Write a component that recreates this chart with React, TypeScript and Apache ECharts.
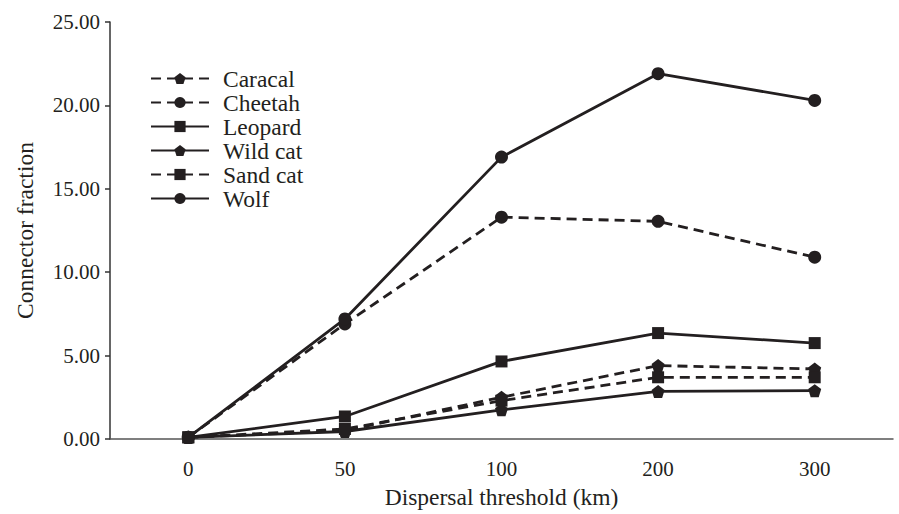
import React, { useEffect, useRef } from "react";
import * as echarts from "echarts";

const categories = ["0", "50", "100", "200", "300"];
const caracal = [0.1, 0.5, 2.5, 4.4, 4.2];
const cheetah = [0.1, 6.9, 13.3, 13.05, 10.9];
const leopard = [0.1, 1.35, 4.65, 6.35, 5.75];
const wildCat = [0.1, 0.45, 1.75, 2.85, 2.9];
const sandCat = [0.1, 0.6, 2.3, 3.7, 3.7];
const wolf = [0.1, 7.2, 16.9, 21.9, 20.3];
const yTicks = { min: 0, max: 25, interval: 5 };

const pentagon =
  "path://M0,-10 L9.51,-3.09 L5.88,8.09 L-5.88,8.09 L-9.51,-3.09 Z";

const INK = "#231f20";
const FONT = "Liberation Serif";

export default function App() {
  const ref = useRef<HTMLDivElement>(null);
  useEffect(() => {
    if (!ref.current) return;
    const chart = echarts.init(ref.current, null, { renderer: "svg" });
    const mk = (
      name: string,
      data: number[],
      symbol: string,
      size: number,
      dashed: boolean
    ) => ({
      name,
      type: "line",
      data,
      symbol,
      symbolSize: size,
      showSymbol: true,
      itemStyle: { color: INK, borderWidth: 0 },
      lineStyle: {
        color: INK,
        width: 2.8,
        type: dashed ? [10, 6] : "solid",
      },
      z: 3,
    });
    chart.setOption({
      animation: false,
      backgroundColor: "#fff",
      textStyle: { fontFamily: FONT, color: INK },
      grid: { left: 110, right: 6, top: 22, bottom: 71 },
      legend: {
        orient: "vertical",
        left: 150,
        top: 66.5,
        padding: 0,
        itemWidth: 58,
        itemHeight: 14,
        itemGap: 0,
        textStyle: {
          fontFamily: FONT,
          fontSize: 23.5,
          color: INK,
          padding: [0, 0, 0, 9],
        },
        data: ["Caracal", "Cheetah", "Leopard", "Wild cat", "Sand cat", "Wolf"],
      },
      xAxis: {
        type: "category",
        data: categories,
        boundaryGap: true,
        name: "Dispersal threshold (km)",
        nameLocation: "middle",
        nameGap: 46,
        nameTextStyle: { fontFamily: FONT, fontSize: 23.5, color: INK },
        axisLine: { lineStyle: { color: "#555", width: 1.5 } },
        axisTick: { alignWithLabel: true, length: 8, lineStyle: { color: "#555", width: 1.5 } },
        axisLabel: {
          fontFamily: FONT,
          fontSize: 21,
          color: INK,
          margin: 19,
        },
        splitLine: { show: false },
      },
      yAxis: {
        type: "value",
        min: yTicks.min,
        max: yTicks.max,
        interval: yTicks.interval,
        name: "Connector fraction",
        nameLocation: "middle",
        nameGap: 73,
        nameTextStyle: { fontFamily: FONT, fontSize: 23.5, color: INK },
        axisLine: { show: true, lineStyle: { color: "#333", width: 1.5 } },
        axisTick: { show: true, length: 5, lineStyle: { color: "#333", width: 1.5 } },
        axisLabel: {
          fontFamily: FONT,
          fontSize: 21,
          color: INK,
          margin: 10,
          formatter: (v: number) => v.toFixed(2),
        },
        splitLine: { show: false },
      },
      series: [
        mk("Caracal", caracal, pentagon, 13, true),
        mk("Cheetah", cheetah, "circle", 13, true),
        mk("Leopard", leopard, "rect", 12, false),
        mk("Wild cat", wildCat, pentagon, 13, false),
        mk("Sand cat", sandCat, "rect", 12, true),
        mk("Wolf", wolf, "circle", 13, false),
      ],
    });
    return () => chart.dispose();
  }, []);
  return (
    <div
      ref={ref}
      style={{ position: "absolute", left: 0, top: 0, width: 899, height: 514 }}
    />
  );
}
